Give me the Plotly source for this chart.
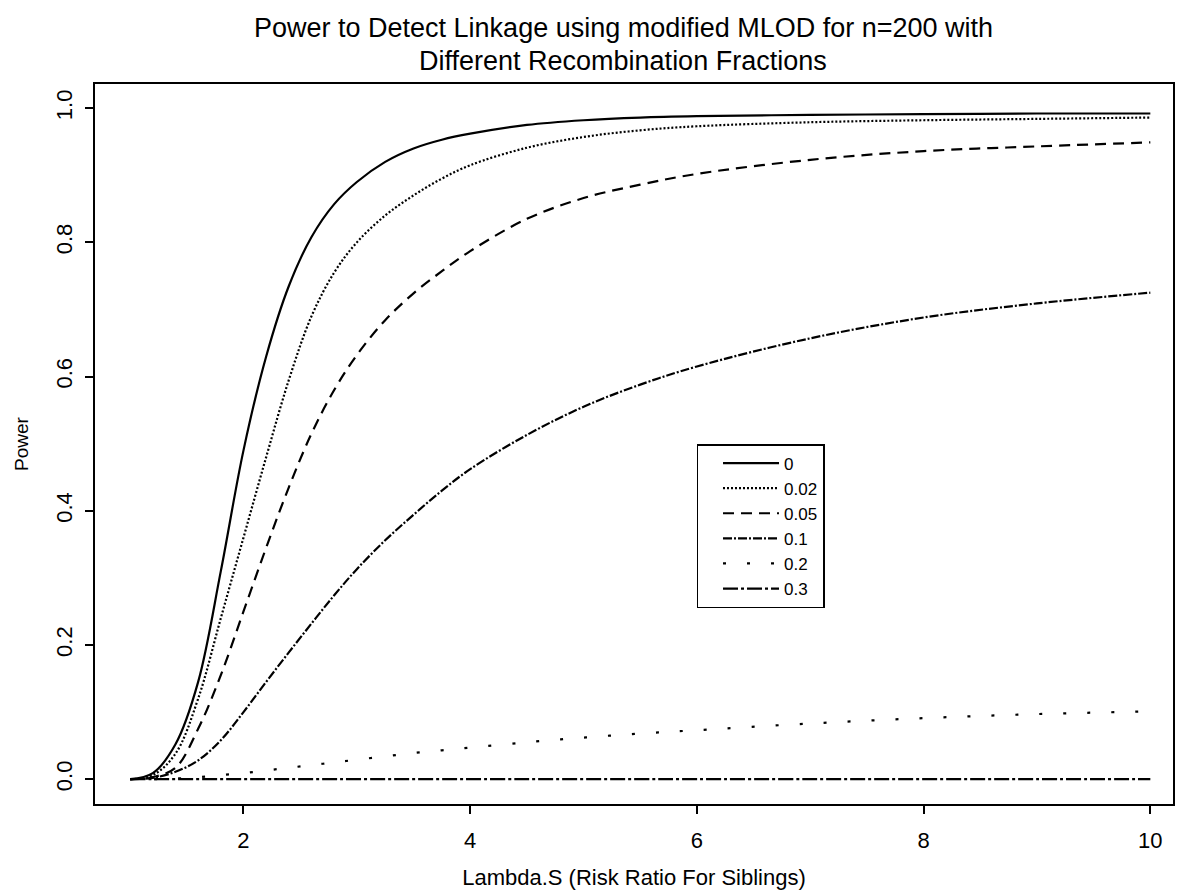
import plotly.graph_objects as go

# Lambda.S grid
lambda_s = [1.0, 1.2, 1.4, 1.6, 1.8, 2.0, 2.2, 2.4, 2.6, 2.8, 3.0, 3.25, 3.5, 3.75,
            4.0, 4.5, 5.0, 5.5, 6.0, 7.0, 8.0, 9.0, 10.0]

# Power for each recombination fraction
power_0 = [0.0, 0.009, 0.052, 0.145, 0.31, 0.49, 0.63, 0.735, 0.808, 0.857, 0.89, 0.92, 0.94,
           0.953, 0.962, 0.975, 0.982, 0.986, 0.988, 0.990, 0.991, 0.992, 0.992]
power_002 = [0.0, 0.006, 0.038, 0.12, 0.24, 0.36, 0.48, 0.595, 0.69, 0.755, 0.80, 0.84, 0.87,
             0.895, 0.915, 0.941, 0.957, 0.967, 0.973, 0.979, 0.982, 0.984, 0.986]
power_005 = [0.0, 0.003, 0.017, 0.075, 0.155, 0.25, 0.345, 0.435, 0.515, 0.58, 0.632, 0.684, 0.724,
             0.757, 0.787, 0.835, 0.866, 0.886, 0.902, 0.923, 0.936, 0.943, 0.949]
power_01 = [0.0, 0.002, 0.011, 0.028, 0.058, 0.10, 0.145, 0.189, 0.232, 0.274, 0.313, 0.356, 0.394,
            0.43, 0.462, 0.513, 0.555, 0.588, 0.615, 0.657, 0.688, 0.709, 0.725]
power_02 = [0.0, 0.0, 0.001, 0.003, 0.006, 0.009, 0.013, 0.017, 0.021, 0.025, 0.029, 0.034, 0.039,
            0.043, 0.047, 0.055, 0.062, 0.068, 0.073, 0.083, 0.091, 0.097, 0.101]
power_03 = [0.0] * len(lambda_s)

series_names = ["0", "0.02", "0.05", "0.1", "0.2", "0.3"]
series_values = [power_0, power_002, power_005, power_01, power_02, power_03]
series_dash = ["solid", "2px,2px", "11px,7px", "9px,2px,2px,2px", "3px,21px", "15px,3px,3px,3px"]

x_ticks = [2, 4, 6, 8, 10]
y_ticks = [0.0, 0.2, 0.4, 0.6, 0.8, 1.0]
y_ticktext = ["0.0", "0.2", "0.4", "0.6", "0.8", "1.0"]

FONT = "Liberation Sans, Arial, Helvetica, sans-serif"

fig = go.Figure()
for name, vals, dash in zip(series_names, series_values, series_dash):
    fig.add_trace(go.Scatter(
        x=lambda_s, y=vals, name=name, mode="lines",
        line=dict(color="black", width=2.2, dash=dash, shape="spline", smoothing=1.0),
    ))

fig.update_layout(
    width=1172, height=885,
    paper_bgcolor="white", plot_bgcolor="white",
    margin=dict(l=87, r=5, t=76, b=89),
    font=dict(family=FONT, color="black", size=18),
    showlegend=True,
    legend=dict(
        x=0.558, y=0.5, xanchor="left", yanchor="top",
        bgcolor="white", bordercolor="black", borderwidth=1.5,
        font=dict(size=17, family=FONT), itemwidth=56, indentation=20,
        tracegroupgap=0,
    ),
    annotations=[
        dict(text="Power to Detect Linkage using modified MLOD for n=200 with",
             xref="paper", yref="paper", x=0.490, y=(804 - 28) / 720, xanchor="center", yanchor="middle",
             showarrow=False, font=dict(size=27, family=FONT)),
        dict(text="Different Recombination Fractions",
             xref="paper", yref="paper", x=0.490, y=(804 - 61) / 720, xanchor="center", yanchor="middle",
             showarrow=False, font=dict(size=27, family=FONT)),
    ],
)

fig.update_xaxes(
    range=[0.69, 10.2], tickvals=x_ticks, ticks="outside", ticklen=8, tickwidth=1.5,
    tickcolor="black", showline=True, linecolor="black", linewidth=1.8, mirror=True,
    showgrid=False, zeroline=False, tickfont=dict(size=22), ticklabelstandoff=8,
    title=dict(text="Lambda.S (Risk Ratio For Siblings)", font=dict(size=22), standoff=17),
)
fig.update_yaxes(
    range=[-0.037, 1.036], tickvals=y_ticks, ticktext=y_ticktext, ticks="outside", ticklen=8,
    tickwidth=1.5, tickcolor="black", showline=True, linecolor="black", linewidth=1.8,
    mirror=True, showgrid=False, zeroline=False, tickangle=-90, tickfont=dict(size=22),
    ticklabelstandoff=4,
    title=dict(text="Power", font=dict(size=19), standoff=19),
)

fig.write_html("out.html")
